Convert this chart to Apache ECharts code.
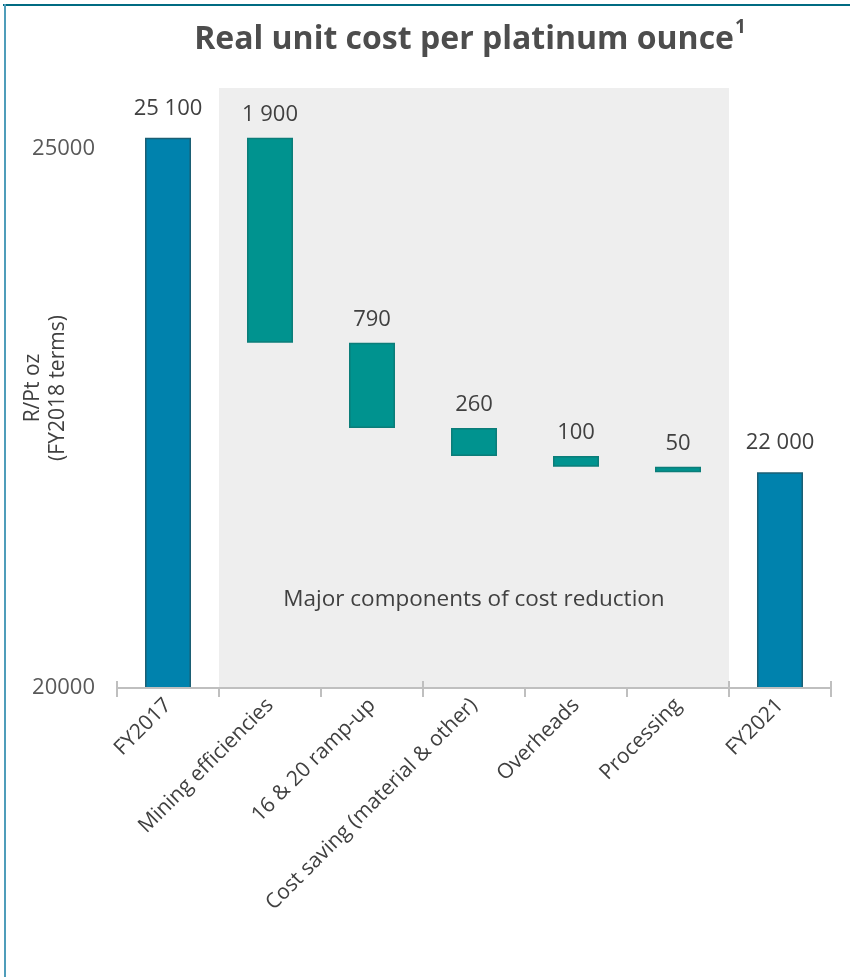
<!DOCTYPE html>
<html>
<head>
<meta charset="utf-8">
<script src="https://cdn.jsdelivr.net/npm/echarts@6/dist/echarts.min.js"></script>
<style>
  html, body { margin: 0; padding: 0; background: #ffffff; }
  #wrap { position: relative; width: 850px; height: 977px; }
  #chart { position: absolute; left: 0; top: 0; width: 850px; height: 977px; }
  #frameTop { position: absolute; left: 3px; top: 4px; width: 847px; height: 2px; background: #006b82; }
  #frameLeft { position: absolute; left: 4px; top: 4px; width: 2px; height: 973px; background: #4f9dba; }
</style>
</head>
<body>
<div id="wrap">
  <div id="chart"></div>
  <div id="frameTop"></div>
  <div id="frameLeft"></div>
</div>
<script>
// Waterfall steps, R/Pt oz in FY2018 terms
const categories = ['FY2017', 'Mining efficiencies', '16 & 20 ramp-up',
  'Cost saving (material & other)', 'Overheads', 'Processing', 'FY2021'];
const openingCost = 25100;      // FY2017
const reductions = [1900, 790, 260, 100, 50];   // the five cost-reduction components
const closingCost = 22000;      // FY2021
const yTickMin = 20000;
const yTickStep = 5000;

// Build the stacked waterfall series from the values above
const baseData = [null];
const stepData = [null];
const totalData = [openingCost];
let running = openingCost;
reductions.forEach(function (r) {
  running -= r;
  baseData.push(running);
  stepData.push(r);
  totalData.push(null);
});
baseData.push(null);
stepData.push(null);
totalData.push(closingCost);

// Grey backdrop behind the reduction components
const bandData = categories.map(function (c, i) {
  return (i > 0 && i <= reductions.length) ? 1 : null;
});

function fmt(v) {
  return String(v).replace(/\B(?=(\d{3})+(?!\d))/g, ' ');
}

const FONT = 'Open Sans';
const TXT = '#404040';
const AXIS = '#bfbfbf';

const chart = echarts.init(document.getElementById('chart'), null, { renderer: 'canvas' });
chart.setOption({
  animation: false,
  backgroundColor: '#ffffff',
  textStyle: { fontFamily: FONT },
  title: {
    text: '{t|Real unit cost per platinum ounce}{s|1}',
    left: 465,
    textAlign: 'center',
    top: 13,
    textStyle: {
      rich: {
        t: { fontFamily: FONT, fontWeight: 'bold', fontSize: 32, color: '#4d4d4d', lineHeight: 44 },
        s: { fontFamily: FONT, fontWeight: 'bold', fontSize: 19, color: '#4d4d4d', lineHeight: 44, verticalAlign: 'top', padding: [0, 0, 16, 1] }
      }
    }
  },
  grid: { left: 117, right: 19, top: 88, bottom: 289, containLabel: false, outerBoundsMode: 'none' },
  xAxis: [{
    type: 'category',
    data: categories,
    z: 5,
    axisLine: { lineStyle: { color: AXIS, width: 2 } },
    axisTick: { show: true, length: 9, lineStyle: { color: AXIS, width: 2 } },
    axisLabel: { interval: 0, rotate: 45, margin: 14, fontSize: 21, color: TXT, fontFamily: FONT }
  }, {
    type: 'category',
    data: categories,
    position: 'bottom',
    z: 5,
    axisLine: { show: false },
    axisTick: { show: true, inside: true, length: 7, lineStyle: { color: AXIS, width: 2 } },
    axisLabel: { show: false }
  }],
  yAxis: [{
    type: 'value',
    min: yTickMin,
    max: 25560,
    interval: yTickStep,
    name: 'R/Pt oz\n(FY2018 terms)',
    nameLocation: 'middle',
    nameGap: 46,
    nameMoveOverlap: false,
    nameTextStyle: { fontSize: 21, color: TXT, fontFamily: FONT, lineHeight: 25 },
    axisLine: { show: false },
    axisTick: { show: false },
    splitLine: { show: false },
    axisLabel: { fontSize: 22, color: '#595959', margin: 22, showMaxLabel: false, fontFamily: FONT, formatter: function (v) { return String(v); } }
  }, {
    type: 'value', min: 0, max: 1, show: false
  }],
  graphic: [{
    type: 'text',
    x: 474,
    y: 600,
    z: 20,
    style: {
      text: 'Major components of cost reduction',
      textAlign: 'center',
      textVerticalAlign: 'middle',
      fontSize: 22.5,
      fontFamily: FONT,
      fill: TXT
    }
  }],
  series: [{
    name: 'backdrop',
    type: 'bar',
    xAxisIndex: 1,
    yAxisIndex: 1,
    data: bandData,
    barCategoryGap: '0%',
    silent: true,
    z: 0,
    itemStyle: { color: '#eeeeee' }
  }, {
    name: 'base',
    type: 'bar',
    stack: 'w',
    data: baseData,
    barWidth: 46,
    silent: true,
    itemStyle: { color: 'transparent' }
  }, {
    name: 'reduction',
    type: 'bar',
    stack: 'w',
    data: stepData,
    barWidth: 46,
    itemStyle: { color: '#00938f', borderColor: '#0b7d79', borderWidth: 1.5 },
    label: { show: true, position: 'top', distance: 12, fontSize: 22, color: TXT, fontFamily: FONT, formatter: function (p) { return fmt(p.value); } }
  }, {
    name: 'total',
    type: 'bar',
    stack: 'w',
    data: totalData,
    barWidth: 46,
    itemStyle: { color: '#0082ad', borderColor: '#1b5f74', borderWidth: 1.5 },
    label: { show: true, position: 'top', distance: 18, fontSize: 22, color: TXT, fontFamily: FONT, formatter: function (p) { return fmt(p.value); } }
  }]
});
</script>
</body>
</html>
